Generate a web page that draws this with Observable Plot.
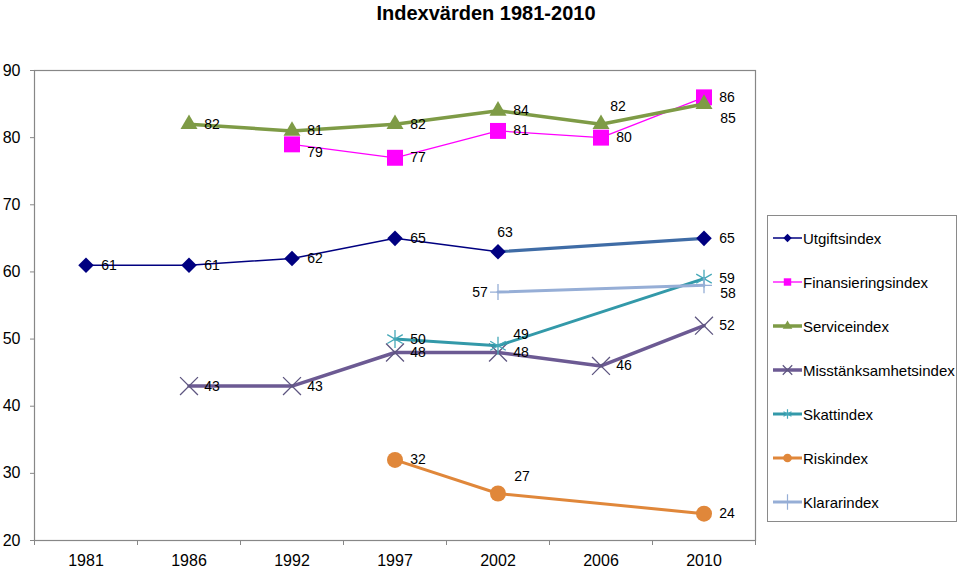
<!DOCTYPE html>
<html>
<head>
<meta charset="utf-8">
<script src="https://cdn.jsdelivr.net/npm/d3@7"></script>
<script src="https://cdn.jsdelivr.net/npm/@observablehq/plot@0.6"></script>
<style>
  html, body { margin: 0; padding: 0; background: #fff; }
  #wrap { position: relative; width: 960px; height: 567px; font-family: "Liberation Sans", Arial, sans-serif; }
  #title { position: absolute; left: 0; top: 0; width: 960px; height: 26px; line-height: 26px; text-align: center; padding-left: 12px; box-sizing: border-box; font-weight: bold; font-size: 20px; color: #000; z-index: 2; }
  #chart { position: absolute; left: 0; top: 0; }
  #legend { position: absolute; left: 767px; top: 215px; width: 190px; height: 307px; border: 1px solid #8a8a8a; box-sizing: border-box; background: #fff; z-index: 2; }
  svg { overflow: visible; }
</style>
</head>
<body>
<div id="wrap">
  <div id="chart"></div>
  <div id="title">Indexvärden 1981-2010</div>
  <div id="legend"></div>
</div>
<script>
// ---- data ----
const years = ["1981", "1986", "1992", "1997", "2002", "2006", "2010"];
const utgiftsindex = [61, 61, 62, 65, 63, null, 65];
const finansieringsindex = [null, null, 79, 77, 81, 80, 86];
const serviceindex = [null, 82, 81, 82, 84, 82, 85];
const misstanksamhetsindex = [null, 43, 43, 48, 48, 46, 52];
const skattindex = [null, null, null, 50, 49, null, 59];
const riskindex = [null, null, null, 32, 27, null, 24];
const klararindex = [null, null, null, null, 57, null, 58];
const yTicks = [20, 30, 40, 50, 60, 70, 80, 90];
const seriesNames = ["Utgiftsindex", "Finansieringsindex", "Serviceindex", "Misstänksamhetsindex", "Skattindex", "Riskindex", "Klararindex"];

// ---- styles ----
const styles = {
  "Utgiftsindex": {values: utgiftsindex, line: "#000080", lw: 1.5, symbol: "diamond2", fill: "#000080", stroke: "none", r: 7},
  "Finansieringsindex": {values: finansieringsindex, line: "#FF00FF", lw: 1.3, symbol: "square", fill: "#FF00FF", stroke: "none", r: 9},
  "Serviceindex": {values: serviceindex, line: "#7E9B46", lw: 3.5, symbol: "triangle", fill: "#7E9B46", stroke: "none", r: 6.3},
  "Misstänksamhetsindex": {values: misstanksamhetsindex, line: "#6C5A93", lw: 3.5, symbol: "times", fill: "none", stroke: "#5E5680", r: 8.2},
  "Skattindex": {values: skattindex, line: "#3399A9", lw: 3, symbol: "asterisk", fill: "none", stroke: "#45A8B8", r: 8.5},
  "Riskindex": {values: riskindex, line: "#E0873A", lw: 3, symbol: "circle", fill: "#E0873A", stroke: "none", r: 8},
  "Klararindex": {values: klararindex, line: "#96AED6", lw: 3, symbol: "plus", fill: "none", stroke: "#96AED6", r: 5.2}
};
// label offsets (dx, dy) that differ from the default
const labelOffsets = {
  "Utgiftsindex|2002": [7, -19],
  "Finansieringsindex|1992": [23, 8],
  "Serviceindex|2006": [17, -18],
  "Serviceindex|2010": [24, 14],
  "Skattindex|2002": [23, -11],
  "Riskindex|2002": [24, -17],
  "Klararindex|2002": [-18, 0],
  "Klararindex|2010": [24, 8]
};

const pts = name => styles[name].values
  .map((v, i) => ({i, year: years[i], v, name}))
  .filter(d => d.v != null);

const marks = [];
marks.push(Plot.frame({stroke: "#878787", strokeWidth: 1.2}));

for (const name of seriesNames) {
  const s = styles[name];
  const p = pts(name);
  if (name === "Utgiftsindex") {
    marks.push(Plot.line(p.filter(d => +d.year <= 2002), {x: "i", y: "v", stroke: s.line, strokeWidth: s.lw}));
    marks.push(Plot.line(p.filter(d => +d.year >= 2002), {x: "i", y: "v", stroke: "#3F6CA6", strokeWidth: 3.2}));
  } else {
    marks.push(Plot.line(p, {x: "i", y: "v", stroke: s.line, strokeWidth: s.lw}));
  }
  marks.push(Plot.dot(p, {x: "i", y: "v", symbol: () => s.symbol, fill: s.fill, stroke: s.stroke, strokeWidth: 1.3, r: s.r}));
}

// labels
const allPts = seriesNames.flatMap(pts);
const defaults = allPts.filter(d => !labelOffsets[d.name + "|" + d.year]);
marks.push(Plot.text(defaults, {x: "i", y: "v", text: d => String(d.v), dx: 23, fontSize: 14, fill: "#000"}));
for (const key of Object.keys(labelOffsets)) {
  const [dx, dy] = labelOffsets[key];
  const sel = allPts.filter(d => d.name + "|" + d.year === key);
  marks.push(Plot.text(sel, {x: "i", y: "v", text: d => String(d.v), dx, dy, fontSize: 14, fill: "#000"}));
}

// axes
marks.push(Plot.axisY({ticks: yTicks, tickSize: 4, tickPadding: 10, fontSize: 16, stroke: "#878787", label: null, tickFormat: d => String(d)}));
marks.push(Plot.axisX({ticks: d3.range(-0.5, years.length, 1), tickSize: 5, stroke: "#878787", label: null, tickFormat: () => ""}));
marks.push(Plot.axisX({ticks: d3.range(0, years.length), tickSize: 0, tickPadding: 14, fontSize: 16, label: null, tickFormat: i => years[i]}));

const chart = Plot.plot({
  width: 960,
  height: 567,
  marginTop: 70,
  marginBottom: 27,
  marginLeft: 34,
  marginRight: 205,
  style: {fontFamily: "'Liberation Sans', Arial, sans-serif", background: "transparent", color: "#000", overflow: "visible"},
  x: {type: "linear", domain: [-0.5, years.length - 0.5], label: null},
  y: {domain: [20, 90], label: null},
  marks
});
document.getElementById("chart").appendChild(chart);

// legend
const legend = d3.select("#legend");
seriesNames.forEach((name, k) => {
  const s = styles[name];
  const row = legend.append("div")
    .style("position", "absolute").style("left", "4px").style("top", (22 + 44 * k - 9) + "px")
    .style("height", "18px").style("display", "flex").style("align-items", "center");
  const svg = row.append("svg").attr("width", 31).attr("height", 18);
  svg.append("line").attr("x1", 1).attr("x2", 30).attr("y1", 9).attr("y2", 9)
    .attr("stroke", s.line).attr("stroke-width", s.lw);
  const sym = {diamond2: d3.symbolDiamond2, square: d3.symbolSquare, triangle: d3.symbolTriangle, times: d3.symbolTimes,
    asterisk: d3.symbolAsterisk, circle: d3.symbolCircle, plus: d3.symbolPlus}[s.symbol];
  const size = {diamond2: 45, square: 55, triangle: 40, times: 60, asterisk: 60, circle: 60, plus: 80}[s.symbol];
  svg.append("path").attr("d", d3.symbol(sym, size)()).attr("transform", "translate(15.5,9)")
    .attr("fill", s.fill).attr("stroke", s.stroke === "none" ? "none" : s.stroke).attr("stroke-width", 1.2);
  row.append("span").text(name).style("font-size", "15px").style("color", "#000");
});
</script>
</body>
</html>
